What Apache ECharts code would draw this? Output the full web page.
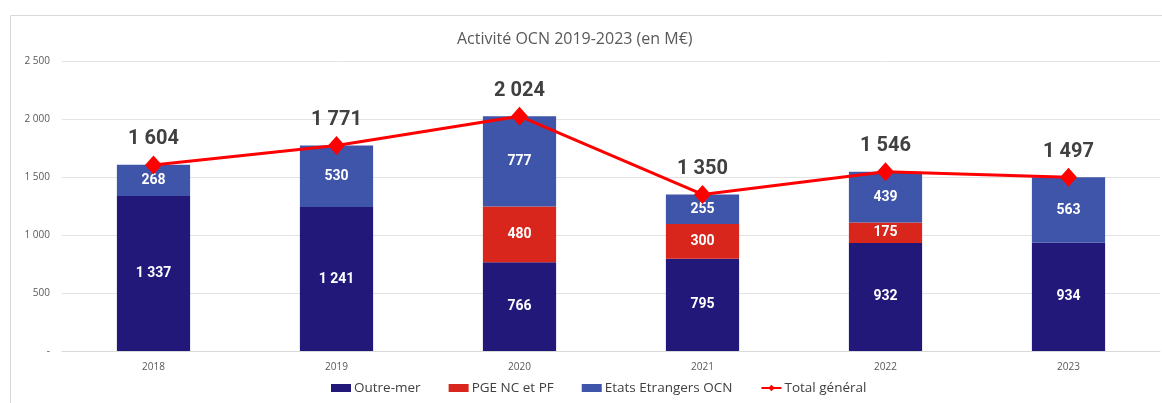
<!DOCTYPE html>
<html>
<head>
<meta charset="utf-8">
<script src="https://cdn.jsdelivr.net/npm/echarts@6/dist/echarts.min.js"></script>
<style>
  html, body { margin: 0; padding: 0; background: #fff; }
  #chart { width: 1162px; height: 403px; }
</style>
</head>
<body>
<div id="chart"></div>
<script>
var years = ['2018', '2019', '2020', '2021', '2022', '2023']
var outreMer = [1337, 1241, 766, 795, 932, 934]
var pge = [null, null, 480, 300, 175, null]
var etats = [268, 530, 777, 255, 439, 563]
var total = [1604, 1771, 2024, 1350, 1546, 1497]
var yTicks = [0, 500, 1000, 1500, 2000, 2500]

function fmt(v) {
  if (v === 0) return '-'
  return String(v).replace(/\B(?=(\d{3})+(?!\d))/g, ' ')
}

var chart = echarts.init(document.getElementById('chart'))

var font = "'Roboto', sans-serif"
var textFont = "'Open Sans', sans-serif"

var barLabel = {
  show: true,
  color: '#fff',
  fontWeight: 'bold',
  fontSize: 14,
  fontFamily: font,
  formatter: function (p) { return fmt(p.value) }
}

chart.setOption({
  animation: false,
  graphic: [{
    type: 'rect',
    left: 8,
    top: 13,
    shape: { width: 1200, height: 420 },
    style: { fill: 'none', stroke: '#d9d9d9', lineWidth: 1 },
    z: -10
  }],
  title: {
    text: 'Activité OCN 2019-2023 (en M€)',
    left: 452,
    top: 26,
    textStyle: { color: '#595959', fontSize: 16, fontWeight: 'normal', fontFamily: textFont }
  },
  legend: {
    bottom: 3,
    left: 326,
    itemWidth: 20,
    itemHeight: 8,
    itemGap: 28,
    textStyle: { color: '#404040', fontSize: 13.5, fontFamily: textFont, padding: [0, 0, 0, -2] },
    data: [
      { name: 'Outre-mer', icon: 'rect' },
      { name: 'PGE NC et PF', icon: 'rect' },
      { name: 'Etats Etrangers OCN', icon: 'rect' },
      { name: 'Total général' }
    ]
  },
  grid: {
    left: 62,
    right: 2,
    top: 61,
    bottom: 52
  },
  xAxis: {
    type: 'category',
    data: years,
    axisTick: { show: false },
    axisLine: { lineStyle: { color: '#d9d9d9' } },
    axisLabel: { color: '#595959', fontSize: 10, margin: 11, fontFamily: textFont }
  },
  yAxis: {
    type: 'value',
    min: 0,
    max: yTicks[yTicks.length - 1],
    interval: 500,
    axisLabel: {
      color: '#595959',
      fontSize: 10,
      margin: 12,
      fontFamily: textFont,
      formatter: fmt
    },
    splitLine: { lineStyle: { color: '#e3e3e3' } }
  },
  series: [
    {
      name: 'Outre-mer',
      type: 'bar',
      stack: 'ocn',
      barWidth: '40%',
      itemStyle: { color: '#21187a' },
      label: barLabel,
      data: outreMer
    },
    {
      name: 'PGE NC et PF',
      type: 'bar',
      stack: 'ocn',
      itemStyle: { color: '#d9261c' },
      label: barLabel,
      data: pge
    },
    {
      name: 'Etats Etrangers OCN',
      type: 'bar',
      stack: 'ocn',
      itemStyle: { color: '#3f55a9' },
      label: barLabel,
      data: etats
    },
    {
      name: 'Total général',
      type: 'line',
      symbol: 'diamond',
      symbolSize: [17, 19],
      itemStyle: { color: '#ff0000' },
      lineStyle: { color: '#ff0000', width: 3 },
      label: {
        show: true,
        position: 'top',
        distance: 6,
        color: '#404040',
        fontWeight: 'bold',
        fontSize: 20,
        fontFamily: font,
        formatter: function (p) { return fmt(p.value) }
      },
      z: 5,
      data: total
    }
  ]
})
</script>
</body>
</html>
